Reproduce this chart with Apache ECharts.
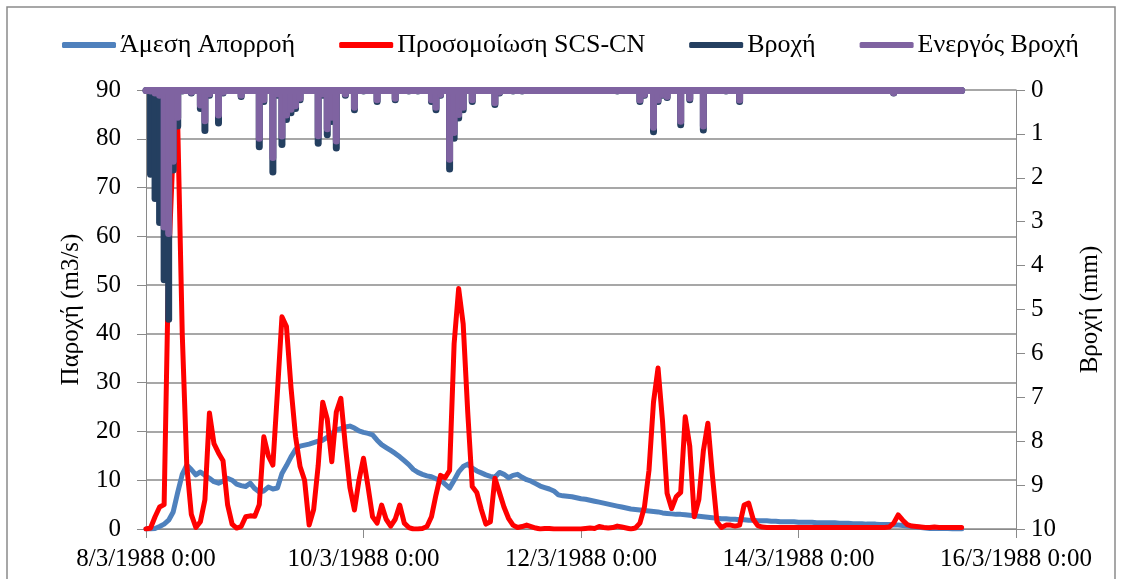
<!DOCTYPE html>
<html>
<head>
<meta charset="utf-8">
<script src="https://cdn.jsdelivr.net/npm/echarts@6/dist/echarts.min.js"></script>
<style>
  html, body { margin: 0; padding: 0; background: #ffffff; }
  #chart { width: 1122px; height: 579px; }
</style>
</head>
<body>
<div id="chart"></div>
<script>
// Hourly series starting 8/3/1988 0:00 (index = hours since start)
const xTickLabels = ['8/3/1988 0:00', '10/3/1988 0:00', '12/3/1988 0:00', '14/3/1988 0:00', '16/3/1988 0:00'];
const seriesNames = ['Άμεση Απορροή', 'Προσομοίωση SCS-CN', 'Βροχή', 'Ενεργός Βροχή'];

// Direct runoff (m3/s)
const runoff = [
  0, 0, 0.1, 0.5, 1.0, 1.8, 3.5, 7.5, 11.2, 13.1, 12.2, 11.1,
  11.7, 11.0, 10.4, 9.7, 9.4, 9.8, 10.4, 10.0, 9.2, 8.9, 8.7, 9.4,
  8.3, 7.6, 7.8, 8.6, 8.2, 8.4, 11.4, 13.0, 14.8, 16.3, 17.0, 17.2,
  17.4, 17.7, 18.0, 18.2, 18.8, 19.6, 20.3, 20.6, 20.9, 21.1, 20.7, 20.1,
  19.8, 19.6, 19.3, 18.2, 17.3, 16.7, 16.1, 15.5, 14.8, 14.0, 13.2, 12.2,
  11.6, 11.2, 10.9, 10.7, 10.3, 10.0, 9.2, 8.4, 10.0, 11.7, 12.8, 13.3,
  12.5, 11.9, 11.5, 11.1, 10.8, 10.6, 11.6, 11.2, 10.5, 11.0, 11.2, 10.6,
  10.1, 9.8, 9.3, 8.8, 8.5, 8.2, 7.8, 7.0, 6.8, 6.7, 6.6, 6.4,
  6.2, 6.1, 5.9, 5.7, 5.5, 5.3, 5.1, 4.9, 4.7, 4.5, 4.3, 4.1,
  4.0, 3.9, 3.8, 3.7, 3.6, 3.5, 3.3, 3.2, 3.1, 3.0, 3.0, 2.9,
  2.8, 2.7, 2.6, 2.5, 2.4, 2.3, 2.2, 2.1, 2.1, 2.0, 2.0, 1.9,
  1.9, 1.8, 1.8, 1.7, 1.7, 1.7, 1.6, 1.6, 1.5, 1.5, 1.5, 1.5,
  1.4, 1.4, 1.4, 1.4, 1.3, 1.3, 1.3, 1.3, 1.3, 1.2, 1.2, 1.2,
  1.1, 1.1, 1.1, 1.0, 1.0, 1.0, 0.9, 0.9, 0.9, 0.8, 0.8, 0.7,
  0.6, 0.5, 0.4, 0.3, 0.2, 0.1, 0.1, 0.1, 0.1, 0.1, 0.0, 0.0, 0.0
];

// SCS-CN simulated flow (m3/s)
const scsCn = [
  0, 0.2, 2.5, 4.5, 5, 55, 78, 83, 40, 13, 3, 0.3,
  1.5, 6, 23.8, 17.5, 15.6, 14, 5, 1, 0.2, 0.5, 2.5, 2.7,
  2.6, 5, 18.9, 15, 13.1, 28, 43.5, 41.5, 29, 19, 12.8, 10,
  0.8, 4, 13, 26, 22.5, 13.8, 24, 26.8, 17, 8.5, 3.9, 10,
  14.5, 8.7, 2.5, 1.2, 4.9, 2, 0.6, 2, 4.9, 1.2, 0.3, 0,
  0, 0.1, 0.5, 2.5, 7, 11, 10.5, 12, 38, 49.3, 42, 24,
  8.7, 7.5, 4, 1, 1.5, 10.4, 7.5, 4.5, 2.2, 0.8, 0.3, 0.5,
  0.8, 0.5, 0.2, 0, 0.1, 0.1, 0, 0, 0, 0, 0, 0,
  0, 0.1, 0.2, 0.1, 0.5, 0.3, 0.2, 0.3, 0.6, 0.4, 0.2, 0,
  0.2, 1.2, 4.5, 12, 26, 33, 22, 7.3, 4.2, 6.6, 7.5, 23,
  17, 2.5, 6, 16, 21.7, 11, 1.5, 0.3, 0.8, 0.8, 0.6, 0.8,
  4.9, 5.3, 2, 0.7, 0.4, 0.3, 0.3, 0.3, 0.3, 0.3, 0.3, 0.3,
  0.3, 0.3, 0.3, 0.3, 0.3, 0.3, 0.3, 0.3, 0.3, 0.3, 0.3, 0.3,
  0.3, 0.3, 0.3, 0.3, 0.3, 0.3, 0.3, 0.3, 0.4, 1.2, 2.9, 1.8,
  0.9, 0.6, 0.5, 0.4, 0.3, 0.3, 0.4, 0.3, 0.3, 0.3, 0.3, 0.3, 0.3
];

// Rainfall (mm)
const rain = [
  0, 2.0, 2.55, 3.1, 4.4, 5.3, 1.9, 0.9, 0.1, 0, 0.15, 0,
  0.5, 1.0, 0.2, 0, 0.83, 0.15, 0, 0, 0, 0.23, 0, 0,
  0, 1.37, 0.34, 0, 1.95, 0.2, 1.32, 0.75, 0.6, 0.5, 0.3, 0,
  0, 0, 1.29, 0.2, 1.1, 0.8, 1.4, 0, 0.2, 0, 0.53, 0,
  0.1, 0, 0, 0.34, 0, 0, 0, 0.3, 0, 0, 0.1, 0,
  0.1, 0, 0, 0.34, 0.53, 0.2, 0, 1.88, 1.18, 0.72, 0.53, 0,
  0.34, 0, 0, 0, 0, 0.41, 0.15, 0, 0, 0.1, 0, 0.1,
  0, 0, 0, 0, 0, 0, 0, 0, 0, 0, 0, 0,
  0, 0, 0, 0, 0, 0, 0, 0, 0.1, 0, 0, 0,
  0, 0.34, 0.2, 0, 1.03, 0.34, 0.2, 0.25, 0, 0, 0.87, 0,
  0.3, 0, 0, 0.99, 0, 0, 0, 0, 0.1, 0, 0, 0.34,
  0, 0, 0, 0, 0, 0, 0, 0, 0, 0, 0, 0,
  0, 0, 0, 0, 0, 0, 0, 0, 0, 0, 0, 0,
  0, 0, 0, 0, 0, 0, 0, 0, 0, 0.15, 0, 0,
  0, 0, 0, 0, 0, 0, 0, 0, 0, 0, 0, 0, 0
];

// Effective rainfall (mm)
const effRain = [
  0, 0.1, 0.15, 0.2, 3.2, 3.35, 1.7, 0.7, 0.08, 0, 0.13, 0,
  0.42, 0.78, 0.17, 0, 0.65, 0.13, 0, 0, 0, 0.2, 0, 0,
  0, 1.18, 0.3, 0, 1.62, 0.17, 1.13, 0.65, 0.52, 0.44, 0.27, 0,
  0, 0, 1.12, 0.17, 0.96, 0.7, 1.24, 0, 0.17, 0, 0.47, 0,
  0.09, 0, 0, 0.3, 0, 0, 0, 0.27, 0, 0, 0.09, 0,
  0.09, 0, 0, 0.3, 0.47, 0.18, 0, 1.66, 1.05, 0.64, 0.47, 0,
  0.3, 0, 0, 0, 0, 0.37, 0.13, 0, 0, 0.09, 0, 0.09,
  0, 0, 0, 0, 0, 0, 0, 0, 0, 0, 0, 0,
  0, 0, 0, 0, 0, 0, 0, 0, 0.09, 0, 0, 0,
  0, 0.31, 0.18, 0, 0.93, 0.31, 0.18, 0.23, 0, 0, 0.79, 0,
  0.27, 0, 0, 0.9, 0, 0, 0, 0, 0.09, 0, 0, 0.31,
  0, 0, 0, 0, 0, 0, 0, 0, 0, 0, 0, 0,
  0, 0, 0, 0, 0, 0, 0, 0, 0, 0, 0, 0,
  0, 0, 0, 0, 0, 0, 0, 0, 0, 0.14, 0, 0,
  0, 0, 0, 0, 0, 0, 0, 0, 0, 0, 0, 0, 0
];

const FONT = "'Liberation Serif', 'Times New Roman', serif";
const AXIS_GREY = '#8a8a8a';
const NAVY = '#243f60';
const PURPLE = '#7f63a1';
const RAIN_STROKE = 7;
const toPairs = arr => arr.map((v, i) => [i, v]);
const lastHour = rain.length - 1;

function flowSeries(name, data, color) {
  return {
    name: name,
    type: 'line',
    yAxisIndex: 0,
    z: 2,
    data: toPairs(data),
    showSymbol: false,
    symbol: 'none',
    itemStyle: { color: color },
    lineStyle: { color: color, width: 5, cap: 'round', join: 'round' }
  };
}

// Each hourly rain depth hangs from the top of the inverted right axis as a
// thick column with a rounded end; a zero line of the same weight runs along
// the top for the length of the record.
function rainSeries(name, data, color) {
  return {
    name: name,
    type: 'custom',
    coordinateSystem: 'cartesian2d',
    yAxisIndex: 1,
    z: 4,
    clip: false,
    encode: { x: 0, y: 1 },
    data: toPairs(data),
    itemStyle: { color: color },
    renderItem: function (params, api) {
      const depth = api.value(1);
      if (!(depth > 0)) return null;
      const top = api.coord([api.value(0), 0]);
      const end = api.coord([api.value(0), depth]);
      const half = RAIN_STROKE / 2;
      return {
        type: 'rect',
        shape: {
          x: top[0] - half,
          y: top[1],
          width: RAIN_STROKE,
          height: Math.max(end[1] - top[1], half),
          r: [0, 0, half, half]
        },
        style: { fill: color, stroke: null }
      };
    },
    markLine: {
      silent: true,
      symbol: ['none', 'none'],
      label: { show: false },
      lineStyle: { color: color, width: RAIN_STROKE, type: 'solid', cap: 'round' },
      data: [[{ coord: [0, 0] }, { coord: [lastHour, 0] }]]
    }
  };
}

const chart = echarts.init(document.getElementById('chart'), null, { renderer: 'canvas' });
chart.setOption({
  animation: false,
  backgroundColor: '#ffffff',
  textStyle: { fontFamily: FONT, color: '#000000' },
  graphic: [{
    type: 'rect',
    shape: { x: 7, y: 7, width: 1108, height: 600 },
    style: { fill: 'none', stroke: AXIS_GREY, lineWidth: 1.5 },
    silent: true
  }],
  legend: {
    left: 57,
    top: 27,
    itemWidth: 54,
    itemHeight: 6,
    itemGap: 44,
    icon: 'roundRect',
    textStyle: { fontFamily: FONT, fontSize: 26, color: '#000000', padding: [0, 0, 0, -1] },
    data: seriesNames
  },
  grid: { left: 146, right: 106, top: 90, bottom: 50, containLabel: false },
  xAxis: {
    type: 'value',
    min: 0,
    max: 192,
    interval: 48,
    axisLine: { show: true, lineStyle: { color: AXIS_GREY, width: 1 } },
    axisTick: { show: true, length: 9, lineStyle: { color: AXIS_GREY } },
    splitLine: { show: false },
    axisLabel: {
      fontFamily: FONT, fontSize: 25, color: '#000000', margin: 18,
      showMinLabel: true, showMaxLabel: true,
      formatter: v => xTickLabels[Math.round(v / 48)] || ''
    }
  },
  yAxis: [{
    type: 'value',
    min: 0,
    max: 90,
    interval: 10,
    name: 'Παροχή (m3/s)',
    nameLocation: 'middle',
    nameGap: 62,
    nameTextStyle: { fontFamily: FONT, fontSize: 25, color: '#000000' },
    axisLine: { show: true, lineStyle: { color: AXIS_GREY, width: 1 } },
    axisTick: { show: true, length: 9, lineStyle: { color: AXIS_GREY } },
    splitLine: { show: true, lineStyle: { color: AXIS_GREY, width: 1.5 } },
    axisLabel: { fontFamily: FONT, fontSize: 25, color: '#000000', margin: 25 }
  }, {
    type: 'value',
    min: 0,
    max: 10,
    interval: 1,
    inverse: true,
    position: 'right',
    name: 'Βροχή (mm)',
    nameLocation: 'middle',
    nameGap: 62,
    nameTextStyle: { fontFamily: FONT, fontSize: 25, color: '#000000' },
    axisLine: { show: true, lineStyle: { color: AXIS_GREY, width: 1 } },
    axisTick: { show: true, length: 9, lineStyle: { color: AXIS_GREY } },
    splitLine: { show: false },
    axisLabel: { fontFamily: FONT, fontSize: 25, color: '#000000', margin: 15 }
  }],
  series: [
    flowSeries(seriesNames[0], runoff, '#4f81bd'),
    flowSeries(seriesNames[1], scsCn, '#ff0000'),
    rainSeries(seriesNames[2], rain, NAVY),
    rainSeries(seriesNames[3], effRain, PURPLE)
  ]
});
</script>
</body>
</html>
